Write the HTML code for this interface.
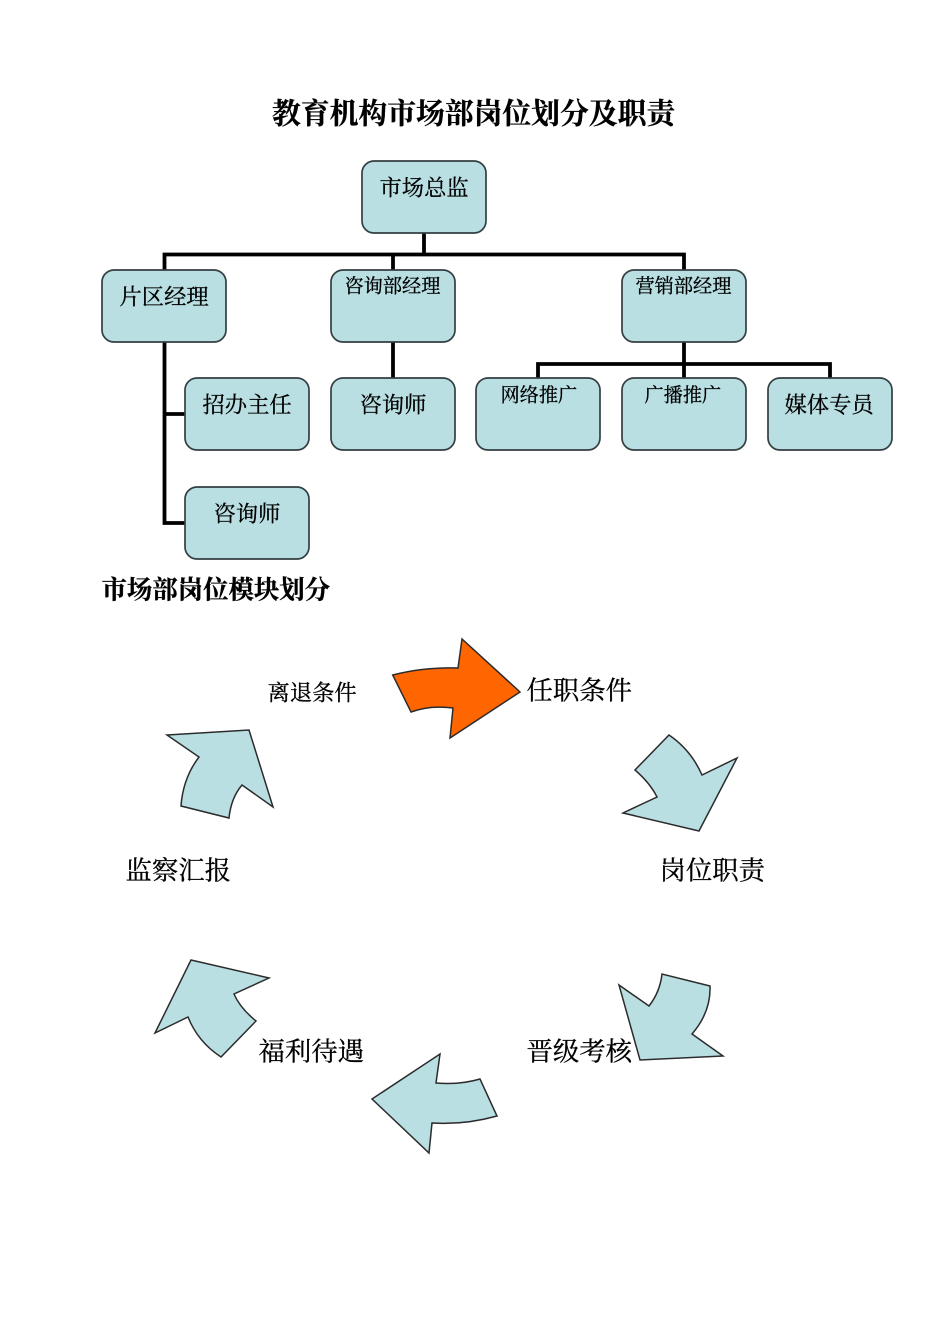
<!DOCTYPE html>
<html><head><meta charset="utf-8"><style>
html,body{margin:0;padding:0;background:#fff}
svg{display:block}
text{font-family:"Liberation Serif","Noto Serif CJK SC",serif;fill:#000;stroke:#000;stroke-width:.3}
.b{fill:#b9dfe3;stroke:#333f41;stroke-width:1.7}
.l{fill:none;stroke:#000;stroke-width:3.8}
.a{fill:#b9dfe3;stroke:#2b2b2b;stroke-width:1.5;stroke-linejoin:miter}
</style></head><body>
<svg width="950" height="1344" viewBox="0 0 950 1344" xmlns="http://www.w3.org/2000/svg">
<text x="272" y="123.500" font-size="28.800" font-weight="bold">教育机构市场部岗位划分及职责</text>
<path class="l" d="M424 233V254.500M164.500 270V254.500H684V270M393 254.500V270M164.500 342V523H185M164.500 414H185M393 342V378M684 342V378M538 378V364H830V378" />
<rect class="b" x="362" y="161" width="124" height="72" rx="12"/>
<rect class="b" x="102" y="270" width="124" height="72" rx="12"/>
<rect class="b" x="331" y="270" width="124" height="72" rx="12"/>
<rect class="b" x="622" y="270" width="124" height="72" rx="12"/>
<rect class="b" x="185" y="378" width="124" height="72" rx="12"/>
<rect class="b" x="331" y="378" width="124" height="72" rx="12"/>
<rect class="b" x="476" y="378" width="124" height="72" rx="12"/>
<rect class="b" x="622" y="378" width="124" height="72" rx="12"/>
<rect class="b" x="768" y="378" width="124" height="72" rx="12"/>
<rect class="b" x="185" y="487" width="124" height="72" rx="12"/>
<g font-size="22.300">
<text x="379.500" y="195.500">市场总监</text>
<text x="119.500" y="304.500">片区经理</text>
<text x="202.500" y="412.500">招办主任</text>
<text x="359.500" y="412.500">咨询师</text>
<text x="784.500" y="412.500">媒体专员</text>
<text x="213.500" y="521.500">咨询师</text>
<text x="267.500" y="700.500">离退条件</text>
</g>
<g font-size="19.200">
<text x="344.500" y="292.500">咨询部经理</text>
<text x="635.500" y="292.500">营销部经理</text>
<text x="500.500" y="401.500">网络推广</text>
<text x="644.500" y="401.500">广播推广</text>
</g>
<text x="101.500" y="598.500" font-size="25.400" font-weight="bold">市场部岗位模块划分</text>
<g font-size="26.400">
<text x="526.500" y="699.500">任职条件</text>
<text x="659.500" y="879.500">岗位职责</text>
<text x="526.500" y="1060.500">晋级考核</text>
<text x="258.500" y="1060.500">福利待遇</text>
<text x="125.500" y="879.500">监察汇报</text>
</g>
<path class="a" style="fill:#ff6600" d="M392.700 675Q424 667 458 668L462 639L520 692L450 738L453 708Q430 705 411 712Z"/>
<path class="a" d="M669 735Q691 750 702 775L737 758L699 831L623 813L657 797Q650 783 635 770Z"/>
<path class="a" d="M619 985L649 1006Q660 992 662 974L710 986Q711 1012 692 1034L723 1056L640 1060Z"/>
<path class="a" d="M440 1054L436 1083Q460 1085 480 1079L497 1116Q465 1125 432 1123L429 1153L372 1099Z"/>
<path class="a" d="M191 960L269 978L234 994Q240 1008 256 1021L221 1057Q198 1042 188 1017L155 1033Z"/>
<path class="a" d="M167 735L249 730L273 807L242 785Q231 798 229 818L181 806Q183 778 199 757Z"/>
</svg>
</body></html>
